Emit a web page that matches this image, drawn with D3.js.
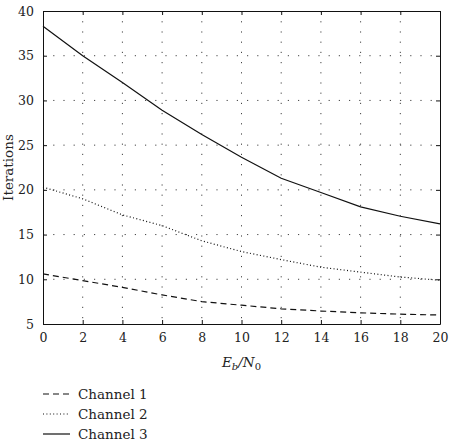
<!DOCTYPE html>
<html>
<head>
<meta charset="utf-8">
<script src="https://cdn.jsdelivr.net/npm/d3@7"></script>
<style>
    body { margin: 0; background: #fff; }
</style>
</head>
<body>
<div id="chart"></div>
<script>
// Eb/N0 values (x) and average iteration counts per channel
const ebn0 = [0, 2, 4, 6, 8, 10, 12, 14, 16, 18, 20];
const channel1 = [10.6, 9.85, 9.1, 8.25, 7.5, 7.1, 6.7, 6.45, 6.25, 6.1, 6.0];
const channel2 = [20.3, 19.0, 17.2, 16.0, 14.3, 13.1, 12.2, 11.35, 10.8, 10.25, 9.9];
const channel3 = [38.3, 35.0, 32.0, 28.9, 26.2, 23.65, 21.3, 19.7, 18.1, 17.05, 16.2];
const seriesNames = ["Channel 1", "Channel 2", "Channel 3"];
const xTicks = [0, 2, 4, 6, 8, 10, 12, 14, 16, 18, 20];
const yTicks = [5, 10, 15, 20, 25, 30, 35, 40];

const FONT = "'DejaVu Serif', serif";

const width = 450, height = 442;
const margin = {top: 11, right: 10, bottom: 118, left: 43};
const innerW = width - margin.left - margin.right;
const innerH = height - margin.top - margin.bottom;

const svg = d3.select("#chart").append("svg")
    .attr("width", width)
    .attr("height", height)
    .attr("font-family", FONT)
    .style("font-family", FONT);

const g = svg.append("g")
    .attr("transform", `translate(${margin.left}, ${margin.top})`);

const x = d3.scaleLinear().domain([0, 20]).range([0, innerW]);
const y = d3.scaleLinear().domain([5, 40]).range([innerH, 0]);

// Dotted grid
g.append("g").selectAll("line")
    .data(xTicks.slice(1, -1))
    .join("line")
    .attr("x1", d => x(d)).attr("x2", d => x(d))
    .attr("y1", 0).attr("y2", innerH)
    .attr("stroke", "#444")
    .attr("stroke-width", 1)
    .attr("stroke-dasharray", "1.2,9");
g.append("g").selectAll("line")
    .data(yTicks.slice(1, -1))
    .join("line")
    .attr("x1", 0).attr("x2", innerW)
    .attr("y1", d => y(d)).attr("y2", d => y(d))
    .attr("stroke", "#444")
    .attr("stroke-width", 1)
    .attr("stroke-dasharray", "1.2,9");

// Axes (ticks point inward)
const xAxis = d3.axisBottom(x).tickValues(xTicks).tickSizeInner(-4).tickSizeOuter(0).tickPadding(9);
const xAxisTop = d3.axisTop(x).tickValues(xTicks).tickSizeInner(-4).tickSizeOuter(0).tickFormat("");
const yAxis = d3.axisLeft(y).tickValues(yTicks).tickSizeInner(-4).tickSizeOuter(0).tickPadding(9);
const yAxisRight = d3.axisRight(y).tickValues(yTicks).tickSizeInner(-4).tickSizeOuter(0).tickFormat("");

function styleAxis(sel) {
    sel.attr("font-family", FONT);
    sel.selectAll("path, line").attr("stroke", "#111");
    sel.selectAll("text")
        .attr("font-size", 12.5)
        .style("font-family", FONT)
        .attr("fill", "#222");
}

g.append("g").attr("transform", `translate(0, ${innerH})`).call(xAxis).call(styleAxis);
g.append("g").call(xAxisTop).call(styleAxis);
g.append("g").call(yAxis).call(styleAxis);
g.append("g").attr("transform", `translate(${innerW}, 0)`).call(yAxisRight).call(styleAxis);

// Series lines
const dashes = ["6,4", "1,2.4", null];
const series = [channel1, channel2, channel3];
const line = d3.line()
    .x((d, i) => x(ebn0[i]))
    .y(d => y(d));

series.forEach((vals, k) => {
    g.append("path")
        .datum(vals)
        .attr("fill", "none")
        .attr("stroke", "#111")
        .attr("stroke-width", 1.2)
        .attr("stroke-dasharray", dashes[k])
        .attr("d", line);
});

// Axis labels
const xLabel = svg.append("text")
    .attr("x", margin.left + innerW / 2)
    .attr("y", 367)
    .attr("text-anchor", "middle")
    .attr("font-size", 13.5)
    .attr("fill", "#222")
    .attr("font-style", "italic");
xLabel.append("tspan").text("E");
xLabel.append("tspan").attr("dy", 3).attr("font-size", 10).text("b");
xLabel.append("tspan").attr("dy", -3).text("/N");
xLabel.append("tspan").attr("dy", 3).attr("font-size", 10).attr("font-style", "normal").text("0");

svg.append("text")
    .attr("transform", `translate(13, ${margin.top + innerH / 2}) rotate(-90)`)
    .attr("text-anchor", "middle")
    .attr("font-size", 13.5)
    .attr("fill", "#222")
    .text("Iterations");

// Legend
const legend = svg.append("g").attr("transform", "translate(43, 394)");
seriesNames.forEach((name, k) => {
    const row = legend.append("g").attr("transform", `translate(0, ${k * 20})`);
    row.append("line")
        .attr("x1", 0).attr("x2", 27)
        .attr("y1", 0).attr("y2", 0)
        .attr("stroke", "#111")
        .attr("stroke-width", 1.2)
        .attr("stroke-dasharray", dashes[k]);
    row.append("text")
        .attr("x", 35)
        .attr("y", 5)
        .attr("font-size", 13.5)
        .attr("fill", "#222")
        .text(name);
});
</script>
</body>
</html>
